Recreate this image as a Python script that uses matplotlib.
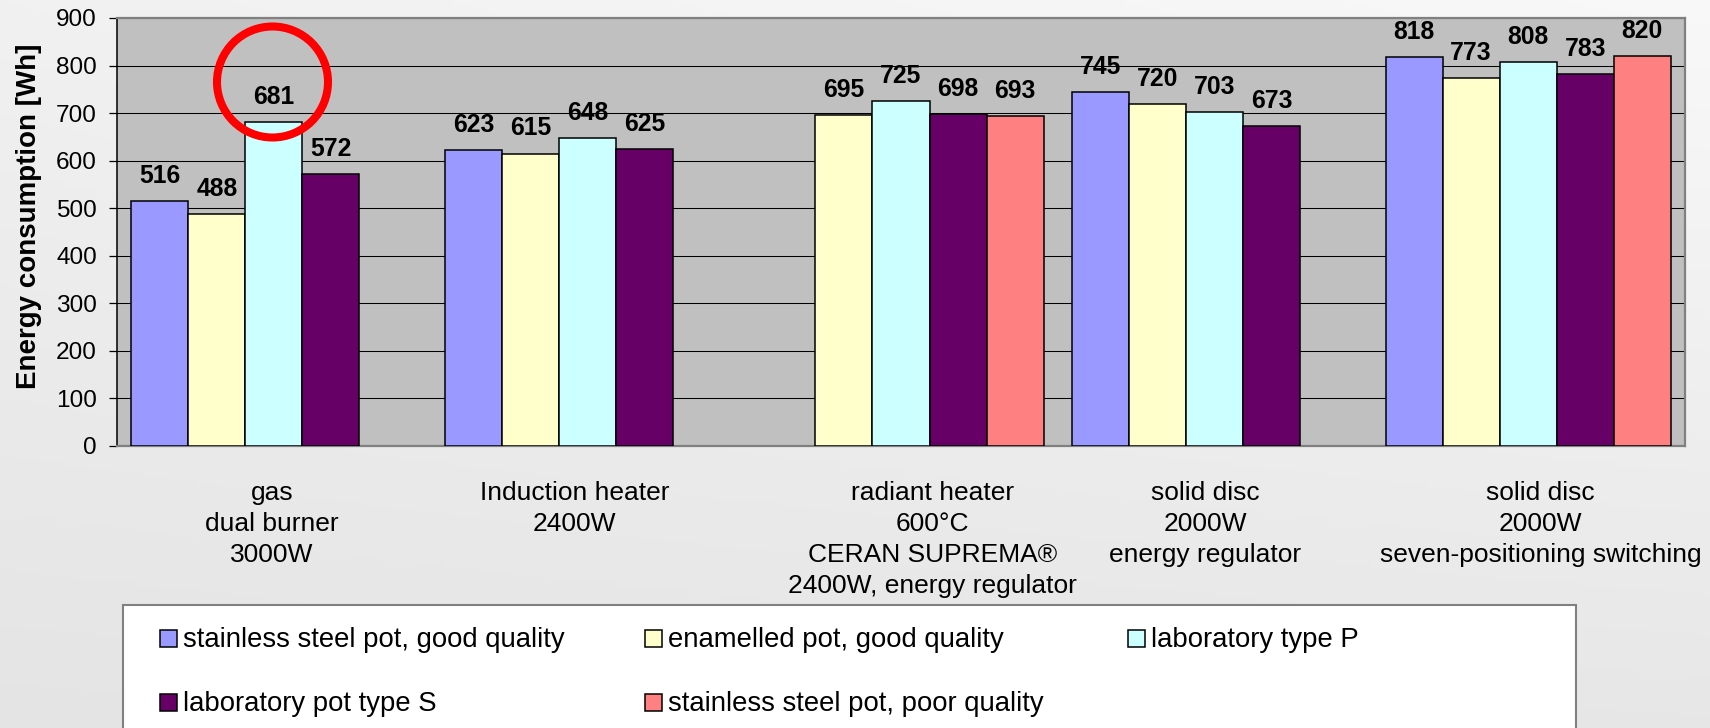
import numpy as np
import matplotlib
matplotlib.use("Agg")
import matplotlib.pyplot as plt
from matplotlib.patches import Rectangle, Circle

plt.rcParams["font.family"] = ["Liberation Sans", "DejaVu Sans"]

# chart data
categories = [
    "gas\ndual burner\n3000W",
    "Induction heater\n2400W",
    "radiant heater\n600°C\nCERAN SUPREMA®\n2400W, energy regulator",
    "solid disc\n2000W\nenergy regulator",
    "solid disc\n2000W\nseven-positioning switching",
]
series_names = [
    "stainless steel pot, good quality",
    "enamelled pot, good quality",
    "laboratory type P",
    "laboratory pot type S",
    "stainless steel pot, poor quality",
]
stainless_good = [516, 623, None, 745, 818]
enamelled_good = [488, 615, 695, 720, 773]
lab_type_p = [681, 648, 725, 703, 808]
lab_type_s = [572, 625, 698, 673, 783]
stainless_poor = [None, None, 693, None, 820]
series_values = [stainless_good, enamelled_good, lab_type_p, lab_type_s, stainless_poor]
colors = ["#9999FF", "#FFFFCC", "#CCFFFF", "#660066", "#FF8080"]
y_ticks = [0, 100, 200, 300, 400, 500, 600, 700, 800, 900]

# Excel places the wrapped category labels a little off-centre
label_shift = [-0.006, -0.04, 0.10, -0.03, 0.04]

W, H = 1710, 728
fig = plt.figure(figsize=(W / 100, H / 100), dpi=100)

# light grey gradient background
bg = fig.add_axes([0, 0, 1, 1], zorder=-10)
yy, xx = np.mgrid[0:1:200j, 0:1:400j]
shade = 0.945 * (1 - yy) * (1 - xx) + 0.975 * (1 - yy) * xx + 0.895 * yy * (1 - xx) + 0.905 * yy * xx
bg.imshow(np.dstack([shade] * 3), aspect="auto", extent=[0, 1, 0, 1], origin="upper")
bg.axis("off")

ax = fig.add_axes([117 / W, (H - 446) / H, 1568 / W, 428 / H])
ax.set_facecolor("#C0C0C0")

n_series = len(series_values)
bar_w = 1 / 5.5
x_cat = np.arange(len(categories)) + 0.5

for i, (vals, col) in enumerate(zip(series_values, colors)):
    xs = [x_cat[j] + (i - (n_series - 1) / 2) * bar_w for j, v in enumerate(vals) if v is not None]
    hs = [v for v in vals if v is not None]
    ax.bar(xs, hs, width=bar_w, color=col, edgecolor="black", linewidth=1.1, zorder=3)
    for x, v in zip(xs, hs):
        ax.annotate(str(v), (x, v), xytext=(0, 13), textcoords="offset points",
                    ha="center", va="baseline", fontsize=17.8, fontweight="bold",
                    annotation_clip=False, zorder=5)

ax.set_xlim(0, len(categories))
ax.set_ylim(0, 900)
ax.set_yticks(y_ticks)
ax.tick_params(axis="y", direction="out", length=5.8, width=0.9, pad=8.6, labelsize=17.6, colors="black")
ax.set_xticks([])
ax.grid(axis="y", color="black", linewidth=0.75, zorder=1)
ax.set_axisbelow(True)
for side in ["top", "right", "bottom"]:
    ax.spines[side].set_color("#808080")
    ax.spines[side].set_linewidth(1.6)
ax.spines["left"].set_color("black")
ax.spines["left"].set_linewidth(1.1)

for xc, shift, lab in zip(x_cat, label_shift, categories):
    ax.annotate(lab, (xc + shift, 0), xycoords=("data", "axes fraction"),
                xytext=(0, -25.5), textcoords="offset points",
                ha="center", va="top", fontsize=19, linespacing=1.36, multialignment="center")

fig.text(29 / W, 1 - 216.5 / H, "Energy consumption [Wh]", rotation=90, ha="center", va="center",
         fontsize=20, fontweight="bold")

# red highlight circle around the 681 label
fig.add_artist(Circle((272.5 / 100, (H - 82) / 100), 55.5 / 100, transform=fig.dpi_scale_trans,
                      fill=False, edgecolor="#FF0000", linewidth=5.8, zorder=10))

# legend box (runs off the bottom edge)
fig.add_artist(Rectangle((123 / W, -0.05), (1576 - 123) / W, 0.05 + 1 - 605 / H,
                         transform=fig.transFigure, facecolor="white", edgecolor="#808080",
                         linewidth=1.5, zorder=2))
col_x = [160, 645, 1128]
row_base = [647, 711]
for k, (name, col) in enumerate(zip(series_names, colors)):
    r, c = divmod(k, 3)
    x0, yb = col_x[c], row_base[r]
    fig.add_artist(Rectangle((x0 / W, 1 - yb / H), 17 / W, 17 / H, transform=fig.transFigure,
                             facecolor=col, edgecolor="black", linewidth=1.1, zorder=3))
    fig.text((x0 + 23) / W, 1 - yb / H, name, ha="left", va="baseline", fontsize=19.8, zorder=3)

plt.savefig("out.png", dpi=100)
